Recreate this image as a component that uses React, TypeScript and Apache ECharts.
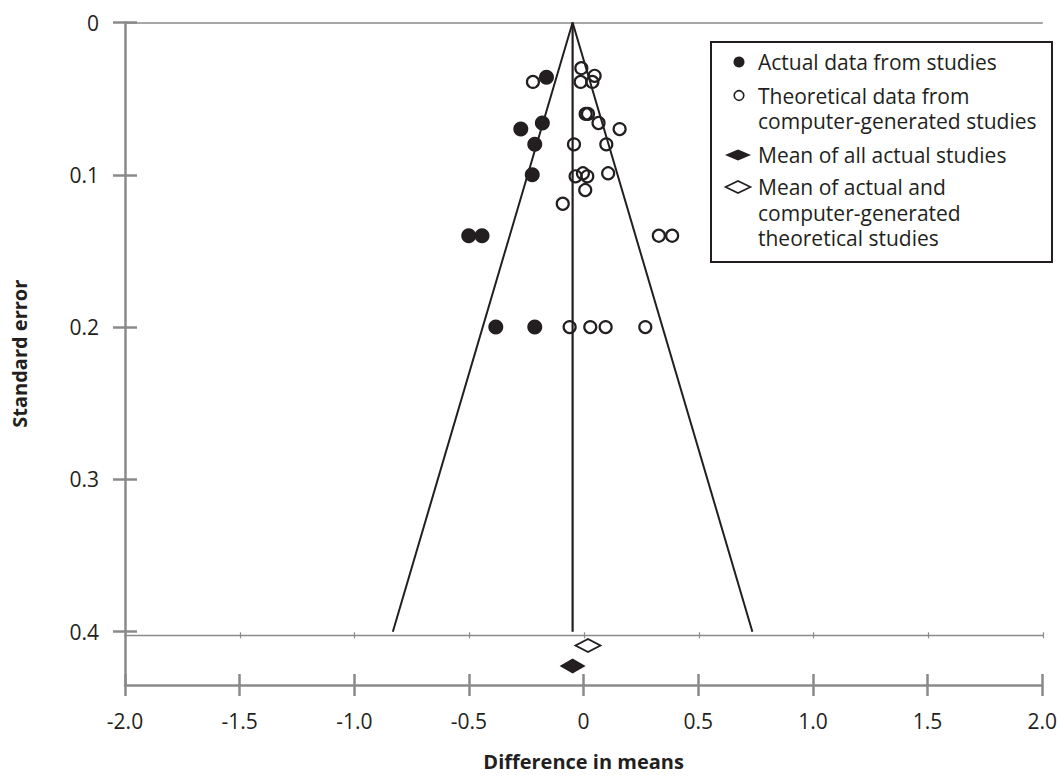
import React, { useEffect, useRef } from "react";
import * as echarts from "echarts";

// Difference in means (x) and standard error (y) for each study
const actualX = [-0.162, -0.18, -0.274, -0.213, -0.224, -0.501, -0.443, -0.383, -0.213];
const actualSE = [0.036, 0.066, 0.07, 0.08, 0.1, 0.14, 0.14, 0.2, 0.2];

const theoreticalX = [
  -0.221, -0.01, -0.013, 0.048, 0.038, 0.009, 0.019, 0.065, 0.157, -0.042, 0.099,
  -0.035, -0.003, 0.016, 0.107, 0.007, -0.091, 0.328, 0.386, -0.061, 0.029, 0.096, 0.269,
];
const theoreticalSE = [
  0.039, 0.03, 0.039, 0.035, 0.039, 0.06, 0.06, 0.066, 0.07, 0.08, 0.08,
  0.101, 0.099, 0.101, 0.099, 0.11, 0.119, 0.14, 0.14, 0.2, 0.2, 0.2, 0.2,
];

// Funnel (pseudo 95% confidence limits) around mean of actual studies
const funnelX = [-0.832, -0.048, 0.736];
const funnelSE = [0.4, 0, 0.4];
const meanLineX = [-0.048, -0.048];
const meanLineSE = [0, 0.4];

// Summary means shown below the funnel
const meanActual = [-0.048, 0.4225];
const meanCombined = [0.019, 0.409];

const xTicks = [-2, -1.5, -1, -0.5, 0, 0.5, 1, 1.5, 2];
const yTicks = [0, 0.1, 0.2, 0.3, 0.4];

const legendLabels = [
  "Actual data from studies",
  "Theoretical data from\ncomputer-generated studies",
  "Mean of all actual studies",
  "Mean of actual and\ncomputer-generated\ntheoretical studies",
];

const INK = "#231f20";
const GRAY = "#8a8a8a";
const FONT = "'Open Sans', 'Noto Sans', sans-serif";

const zip = (a: number[], b: number[]) => a.map((v, i) => [v, b[i]]);
const fmt = (v: number) => (Math.abs(v) < 1e-9 ? "0" : v.toFixed(1));

export default function App() {
  const ref = useRef<HTMLDivElement>(null);

  useEffect(() => {
    if (!ref.current) return;
    const chart = echarts.init(ref.current, undefined, { renderer: "svg" });

    const baseX = { type: "value", min: xTicks[0], max: xTicks[xTicks.length - 1], interval: 0.5 };
    const baseY = { type: "value", inverse: true, min: 0, max: 0.435 };

    // legend graphic
    const lx = 738;
    const tx = 758;
    const rows = [62, 95.5, 155, 187];
    const lh = 25.5;
    const legendEls: any[] = [
      {
        type: "rect",
        shape: { x: 711, y: 42, width: 341, height: 220 },
        style: { fill: "#fff", stroke: INK, lineWidth: 2 },
        z: 100,
      },
      { type: "circle", shape: { cx: lx + 1, cy: rows[0], r: 5.5 }, style: { fill: INK }, z: 101 },
      {
        type: "circle",
        shape: { cx: lx + 1, cy: rows[1], r: 4.8 },
        style: { fill: "none", stroke: INK, lineWidth: 1.6 },
        z: 101,
      },
      {
        type: "polygon",
        shape: { points: [[lx - 13, rows[2]], [lx, rows[2] - 5.5], [lx + 13, rows[2]], [lx, rows[2] + 5.5]] },
        style: { fill: INK },
        z: 101,
      },
      {
        type: "polygon",
        shape: { points: [[lx - 12.5, rows[3]], [lx, rows[3] - 6], [lx + 12.5, rows[3]], [lx, rows[3] + 6]] },
        style: { fill: "#fff", stroke: INK, lineWidth: 1.6 },
        z: 101,
      },
    ];
    legendLabels.forEach((t, i) => {
      legendEls.push({
        type: "text",
        x: tx,
        y: rows[i] - lh / 2,
        style: {
          text: t,
          fill: INK,
          font: `21px ${FONT}`,
          lineHeight: lh,
          verticalAlign: "top",
          align: "left",
        },
        z: 101,
      });
    });

    const option: any = {
      animation: false,
      backgroundColor: "#fff",
      textStyle: { fontFamily: FONT },
      grid: [
        { left: 125, right: 17, top: 22.5, bottom: 87 },
        { left: 125, right: 17, top: 22.5, bottom: 140.7 },
      ],
      xAxis: [
        {
          ...baseX,
          gridIndex: 0,
          position: "bottom",
          axisLine: { onZero: false, lineStyle: { color: GRAY, width: 2.5 } },
          axisTick: { length: 11, lineStyle: { color: GRAY, width: 2.5 } },
          axisLabel: { formatter: fmt, fontSize: 21, color: INK, margin: 25, fontFamily: FONT },
          splitLine: { show: false },
          name: "Difference in means",
          nameLocation: "middle",
          nameGap: 66,
          nameTextStyle: { fontSize: 20, fontWeight: "bold", color: INK, fontFamily: FONT },
        },
        {
          ...baseX,
          gridIndex: 0,
          position: "bottom",
          axisLine: { show: false, onZero: false },
          axisTick: { inside: true, length: 11, lineStyle: { color: GRAY, width: 2.5 } },
          axisLabel: { show: false },
          splitLine: { show: false },
        },
        {
          ...baseX,
          gridIndex: 0,
          position: "top",
          axisLine: { onZero: false, lineStyle: { color: GRAY, width: 1.5 } },
          axisTick: { show: false },
          axisLabel: { show: false },
          splitLine: { show: false },
        },
        {
          ...baseX,
          gridIndex: 1,
          position: "bottom",
          axisLine: { onZero: false, lineStyle: { color: GRAY, width: 1.3 } },
          axisTick: { length: 3, lineStyle: { color: GRAY, width: 1.2 } },
          axisLabel: { show: false },
          splitLine: { show: false },
        },
        {
          ...baseX,
          gridIndex: 1,
          position: "bottom",
          axisLine: { show: false, onZero: false },
          axisTick: { inside: true, length: 3, lineStyle: { color: GRAY, width: 1.2 } },
          axisLabel: { show: false },
          splitLine: { show: false },
        },
      ],
      yAxis: [
        {
          ...baseY,
          gridIndex: 0,
          position: "left",
          axisLine: { onZero: false, lineStyle: { color: GRAY, width: 2.5 } },
          axisTick: { length: 12, customValues: yTicks, lineStyle: { color: GRAY, width: 2.5 } },
          axisLabel: { customValues: yTicks, formatter: fmt, fontSize: 21, color: INK, margin: 26, fontFamily: FONT },
          splitLine: { show: false },
          name: "Standard error",
          nameLocation: "middle",
          nameGap: 96,
          nameRotate: 90,
          nameTextStyle: { fontSize: 20, fontWeight: "bold", color: INK, fontFamily: FONT },
        },
        {
          ...baseY,
          gridIndex: 0,
          position: "left",
          axisLine: { show: false, onZero: false },
          axisTick: { inside: true, length: 12, customValues: yTicks, lineStyle: { color: GRAY, width: 2.5 } },
          axisLabel: { show: false },
          splitLine: { show: false },
        },
        {
          type: "value",
          inverse: true,
          min: 0,
          max: 0.4,
          gridIndex: 1,
          show: false,
          splitLine: { show: false },
        },
      ],
      series: [
        {
          name: "Funnel",
          type: "line",
          xAxisIndex: 0,
          yAxisIndex: 0,
          data: zip(funnelX, funnelSE),
          symbol: "none",
          lineStyle: { color: INK, width: 2 },
          z: 2,
        },
        {
          name: "Mean line",
          type: "line",
          xAxisIndex: 0,
          yAxisIndex: 0,
          data: zip(meanLineX, meanLineSE),
          symbol: "none",
          lineStyle: { color: INK, width: 2.2 },
          z: 2,
        },
        {
          name: "Theoretical data from computer-generated studies",
          type: "scatter",
          xAxisIndex: 0,
          yAxisIndex: 0,
          data: zip(theoreticalX, theoreticalSE),
          symbol: "circle",
          symbolSize: 12,
          itemStyle: { color: "rgba(0,0,0,0)", borderColor: INK, borderWidth: 2.2, opacity: 1 },
          z: 3,
        },
        {
          name: "Actual data from studies",
          type: "scatter",
          xAxisIndex: 0,
          yAxisIndex: 0,
          data: zip(actualX, actualSE),
          symbol: "circle",
          symbolSize: 15,
          itemStyle: { color: INK, opacity: 1 },
          z: 4,
        },
        {
          name: "Mean of all actual studies",
          type: "scatter",
          xAxisIndex: 0,
          yAxisIndex: 0,
          data: [meanActual],
          symbol: "diamond",
          symbolSize: [26, 15],
          itemStyle: { color: INK, opacity: 1 },
          z: 4,
        },
        {
          name: "Mean of actual and computer-generated theoretical studies",
          type: "scatter",
          xAxisIndex: 0,
          yAxisIndex: 0,
          data: [meanCombined],
          symbol: "diamond",
          symbolSize: [25, 13],
          itemStyle: { color: "#fff", borderColor: INK, borderWidth: 2, opacity: 1 },
          z: 4,
        },
      ],
      graphic: { elements: legendEls },
    };

    chart.setOption(option);
    return () => chart.dispose();
  }, []);

  return (
    <div
      ref={ref}
      style={{ position: "fixed", left: 0, top: 0, width: 1060, height: 776, background: "#fff" }}
    />
  );
}
